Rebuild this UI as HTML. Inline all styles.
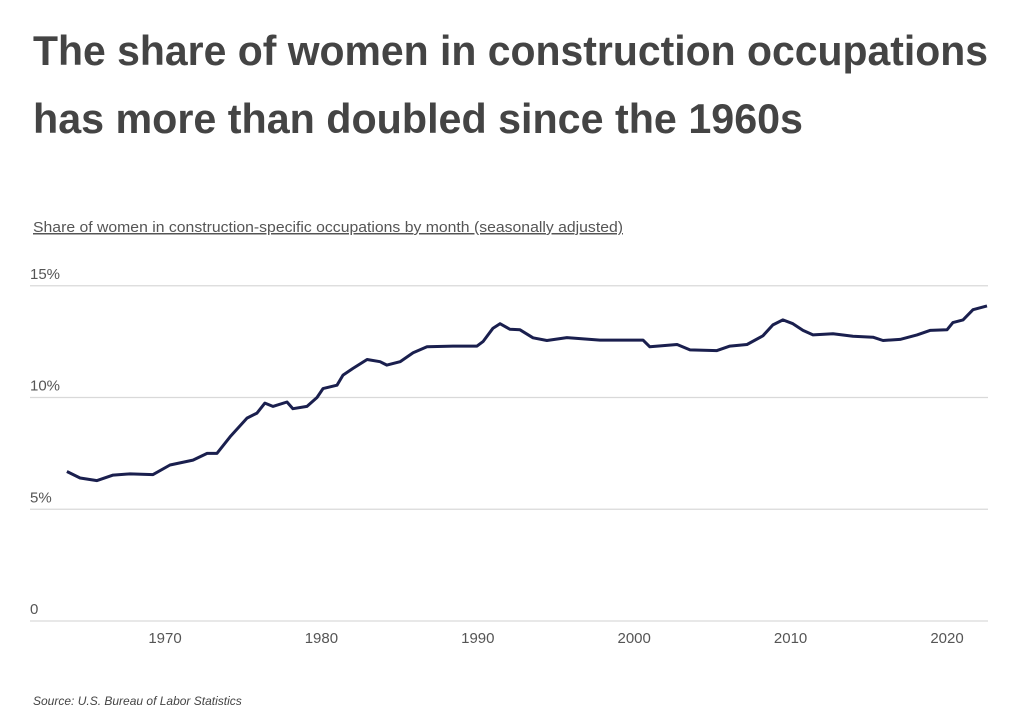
<!DOCTYPE html>
<html><head><meta charset="utf-8"><style>
html,body{margin:0;padding:0;background:#fff;}
svg{display:block;font-family:"Liberation Sans",sans-serif;}
</style></head><body>
<svg id="chart" width="1024" height="715" viewBox="0 0 1024 715">
<text x="33" y="65" font-size="42" font-weight="bold" fill="#444" textLength="955" lengthAdjust="spacingAndGlyphs">The share of women in construction occupations</text>
<text x="33" y="133" font-size="42" font-weight="bold" fill="#444" textLength="770" lengthAdjust="spacingAndGlyphs">has more than doubled since the 1960s</text>
<text x="33" y="232" font-size="15" fill="#555" text-decoration="underline" textLength="590" lengthAdjust="spacingAndGlyphs">Share of women in construction-specific occupations by month (seasonally adjusted)</text>
<g id="grid"></g>
<g id="xaxis"></g>
<path id="series" fill="none" stroke="#1a1f4e" stroke-width="3" stroke-linejoin="round"></path>
<text x="33" y="705" font-size="12" font-style="italic" fill="#444">Source:  U.S. Bureau of Labor Statistics</text>
</svg>
<script>
const years = [1963.73,1964.57,1965.65,1966.68,1967.76,1969.23,1970.32,1971.79,1972.69,1973.32,1974.16,1975.24,1975.88,1976.39,1976.9,1977.8,1978.18,1979.08,1979.72,1980.1,1981.0,1981.38,1982.02,1982.92,1983.75,1984.19,1985.03,1985.86,1986.75,1988.41,1989.95,1990.33,1990.97,1991.42,1992.06,1992.7,1993.53,1994.42,1995.7,1997.81,2000.56,2001.0,2002.74,2003.57,2005.29,2006.12,2007.21,2008.23,2008.87,2009.51,2010.15,2010.79,2011.43,2012.71,2013.99,2015.27,2015.91,2017.0,2018.08,2018.91,2020.0,2020.38,2021.02,2021.66,2022.56];
const shares = [6.69,6.4,6.28,6.53,6.58,6.55,6.98,7.2,7.5,7.5,8.24,9.08,9.3,9.75,9.6,9.8,9.5,9.6,10.0,10.4,10.55,11.0,11.3,11.7,11.6,11.45,11.6,12.0,12.27,12.3,12.3,12.5,13.1,13.3,13.05,13.03,12.67,12.55,12.68,12.57,12.57,12.27,12.37,12.13,12.1,12.3,12.37,12.76,13.25,13.47,13.3,13.0,12.8,12.85,12.74,12.7,12.55,12.6,12.8,13.0,13.03,13.35,13.47,13.93,14.1];
const yTicks = [0,5,10,15];
const yTickLabels = ["0","5%","10%","15%"];
const xTicks = [1970,1980,1990,2000,2010,2020];
const xTickLabels = ["1970","1980","1990","2000","2010","2020"];

const NS = "http://www.w3.org/2000/svg";
function xScale(yr){ return 165 + (yr - 1970) * 15.64; }
function yScale(v){ return 621 - v * 22.35; }

const grid = document.getElementById('grid');
yTicks.forEach((t,i)=>{
  const l = document.createElementNS(NS,'line');
  l.setAttribute('x1',30); l.setAttribute('x2',988);
  l.setAttribute('y1',yScale(t)); l.setAttribute('y2',yScale(t));
  l.setAttribute('stroke','#d9d9d9'); l.setAttribute('stroke-width','1.2');
  
  
  grid.appendChild(l);
  const tx = document.createElementNS(NS,'text');
  tx.setAttribute('x',30); tx.setAttribute('y',yScale(t)-7);
  tx.setAttribute('font-size','15'); tx.setAttribute('fill','#555');
  tx.textContent = yTickLabels[i];
  
  
  grid.appendChild(tx);
});
const xa = document.getElementById('xaxis');
xTicks.forEach((t,i)=>{
  const tx = document.createElementNS(NS,'text');
  tx.setAttribute('x',xScale(t)); tx.setAttribute('y',643);
  tx.setAttribute('font-size','15'); tx.setAttribute('fill','#555');
  tx.setAttribute('text-anchor','middle');
  tx.textContent = xTickLabels[i];
  
  
  xa.appendChild(tx);
});
let d = '';
years.forEach((yr,i)=>{ d += (i?'L':'M') + xScale(yr).toFixed(1) + ',' + yScale(shares[i]).toFixed(1); });
document.getElementById('series').setAttribute('d', d);
</script>
</body></html>
